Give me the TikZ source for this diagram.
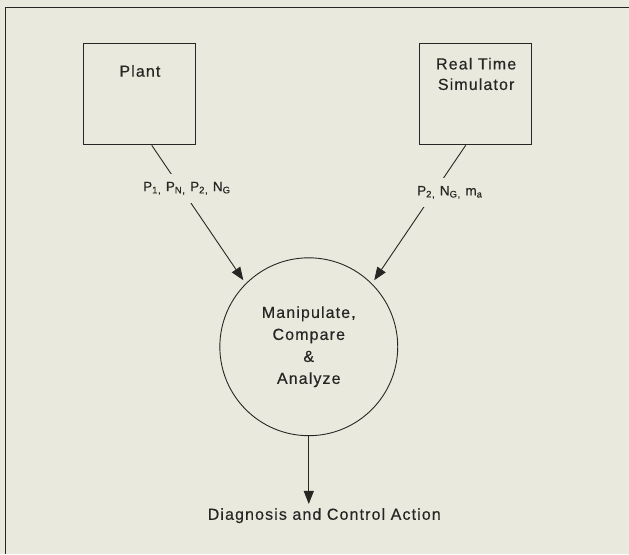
\documentclass[tikz,border=0pt]{standalone}
\usepackage{fontspec}
\setmainfont{Liberation Sans}[LetterSpace=7,FakeBold=0.4]
\usetikzlibrary{arrows.meta,positioning}
\definecolor{paper}{RGB}{233,233,222}
\definecolor{ink}{RGB}{40,38,36}

\begin{document}
\begin{tikzpicture}[x=1pt,y=-1pt,
    blk/.style={draw=ink, line width=0.9pt, minimum width=112pt, minimum height=102pt, inner sep=0pt},
    proc/.style={draw=ink, line width=0.9pt, circle, minimum size=178pt, inner sep=0pt, text=ink, align=center, font=\fontsize{16}{22}\selectfont},
    txt/.style={text=ink, inner sep=0pt, align=center, font=\fontsize{16}{20.5}\selectfont},
    sig/.style={fill=paper, text=ink, inner xsep=1pt, inner ysep=8pt, font=\fontsize{13.5}{15}\selectfont},
    flow/.style={draw=ink, line width=0.9pt, -{Triangle[length=13pt,width=10pt]}}]
  \fill[paper] (0,0) rectangle (629,554);
  \draw[ink, line width=0.9pt] (629,7) -- (5.5,7) -- (5.5,554);

  \node[blk] (plant) at (140,94) {};
  \node[txt] (planttext) at (140,71) {Plant};
  \node[blk] (sim) at (476,94) {};
  \node[txt] (simtext) at (476.5,74) {Real Time\\Simulator};
  \node[proc] (analyze) at (309,347) {Manipulate,\\Compare\\\&\\Analyze};
  \node[txt] (diag) at (324.5,516) {Diagnosis and Control Action};

  \draw[flow, shorten >=4pt] (plant.-77) -- node[sig, pos=0.31, xshift=6pt] (plantsig)
    {P\textsubscript{1,} P\textsubscript{N,} P\textsubscript{2,} N\textsubscript{G}} (analyze.135);
  \draw[flow, shorten >=4pt] (sim.-101) -- node[sig, pos=0.34, xshift=16pt] (simsig)
    {P\textsubscript{2,} N\textsubscript{G,} m\textsubscript{a}} (analyze.45);
  \draw[flow, shorten >=4pt] (analyze.south) -- (analyze.south |- diag.north);
\end{tikzpicture}
\end{document}
